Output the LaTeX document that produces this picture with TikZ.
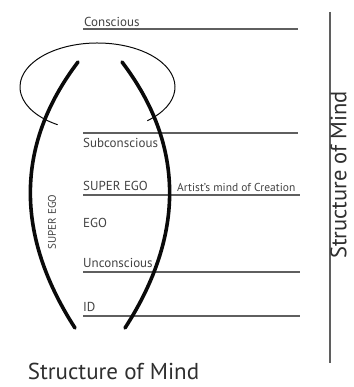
\documentclass[tikz,border=0pt]{standalone}
\usepackage{fontspec}
\setmainfont{PT Sans}
\usepackage{tikz}
\usetikzlibrary{positioning,calc}
\definecolor{levelgray}{RGB}{95,95,95}
\definecolor{inkblack}{RGB}{10,10,10}
\tikzset{
  level-line/.style={draw=levelgray, line width=1.1pt},
  level-label/.style={anchor=west, inner sep=0pt, font=\fontsize{13}{15}\selectfont, text=levelgray!70!black},
  note-label/.style={anchor=west, inner sep=0pt, font=\fontsize{11.5}{13}\selectfont, text=levelgray!70!black},
  mind-arc/.style={draw=inkblack, line width=3.6pt, line cap=round},
  ring-line/.style={draw=inkblack, line width=1pt},
  title-text/.style={inner sep=0pt, text=inkblack!85}
}

\begin{document}
\begin{tikzpicture}[x=1pt, y=1pt]
\useasboundingbox (0,0) rectangle (353,387);
% levels of the mind
\coordinate (conL) at (83,358);  \coordinate (conR) at (298,358);
\coordinate (subL) at (83,254);  \coordinate (subR) at (298,254);
\coordinate (supL) at (83,192);  \coordinate (supR) at (300,192);
\coordinate (uncL) at (83,115);  \coordinate (uncR) at (300,115);
\coordinate (idL)  at (83,71);   \coordinate (idR)  at (300,71);
\draw[level-line] (conL) -- (conR);
\draw[level-line] (subL) -- (subR);
\draw[level-line] (supL) -- (supR);
\draw[level-line] (uncL) -- (uncR);
\draw[level-line] (idL) -- (idR);
\node[level-label] (conscious) at (84,365) {Conscious};
\node[level-label] (subconscious) at (83,244) {Subconscious};
\node[level-label] (superego) at (83,201) {SUPER EGO};
\node[note-label] (artist) at (177,200) {Artist's mind of Creation};
\node[level-label] (ego) at (83,164) {EGO};
\node[level-label] (unconscious) at (83,124) {Unconscious};
\node[level-label] (id) at (83,80) {ID};
% ring over the top
\coordinate (ringc) at (97.5,300);
\draw[ring-line] ([shift={(-50:77.5 and 44)}]ringc) arc[start angle=-50, end angle=239, x radius=77.5, y radius=44];
% the two arcs
\coordinate (leftTop) at (78,325);  \coordinate (leftBot) at (75,59);
\coordinate (rightTop) at (122,325); \coordinate (rightBot) at (125,59);
\draw[mind-arc] (leftTop) .. controls (15,242) and (15,152) .. (leftBot);
\draw[mind-arc] (rightTop) .. controls (185,242) and (185,152) .. (rightBot);
\node[note-label, anchor=center, rotate=90, font=\fontsize{11}{13}\selectfont] (superegoside) at (52,165) {SUPER EGO};
% titles
\coordinate (ruleTop) at (330,375); \coordinate (ruleBot) at (330,24);
\draw[level-line] (ruleTop) -- (ruleBot);
\node[title-text, rotate=90, anchor=base, font=\fontsize{22.5}{27}\selectfont] (sidetitle) at (346.3,212) {Structure of Mind};
\node[title-text, anchor=base, font=\fontsize{23}{26}\selectfont] (maintitle) at (113.5,7) {Structure of Mind};
\end{tikzpicture}
\end{document}
